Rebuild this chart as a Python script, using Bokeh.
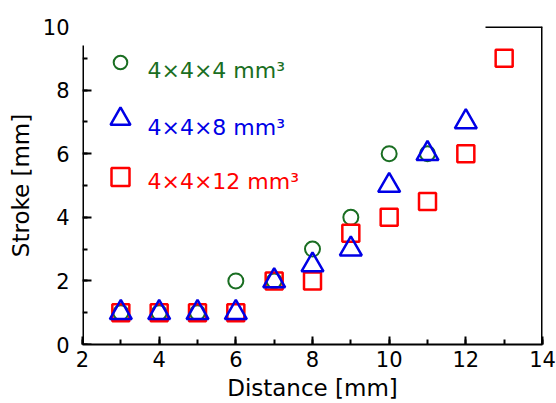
from bokeh.plotting import figure
from bokeh.models import (Range1d, SingleIntervalTicker, Legend, LegendItem,
                          Label, LinearAxis, FixedTicker, CustomJSTickFormatter)
from bokeh.embed import file_html
from bokeh.resources import INLINE

# ---- data ----
distance_4 = [3, 4, 5, 6, 7, 8, 9, 10, 11]
stroke_4 = [1, 1, 1, 2, 2, 3, 4, 6, 6]
distance_8 = [3, 4, 5, 6, 7, 8, 9, 10, 11, 12]
stroke_8 = [1, 1, 1, 1, 2, 2.5, 3, 5, 6, 7]
distance_12 = [3, 4, 5, 6, 7, 8, 9, 10, 11, 12, 13]
stroke_12 = [1, 1, 1, 1, 2, 2, 3.5, 4, 4.5, 6, 9]
series_labels = ["4×4×4 mm³", "4×4×8 mm³", "4×4×12 mm³"]
x_title = "Distance [mm]"
y_title = "Stroke [mm]"

GREEN = "#1a6e22"
BLUE = "#0000e6"
RED = "#ff0000"
FONT = "DejaVu Sans"

p = figure(width=556, height=403, output_backend="svg", toolbar_location=None,
           x_range=Range1d(2, 14), y_range=Range1d(0, 10),
           min_border_left=82, min_border_right=14, min_border_top=26,
           min_border_bottom=57)
p.background_fill_color = "white"
p.border_fill_color = "white"
p.outline_line_color = None
p.xgrid.visible = False
p.ygrid.visible = False

r_c = p.scatter(distance_4, stroke_4, marker="circle", size=15,
                fill_color=None, line_color=GREEN, line_width=2)
r_s = p.scatter(distance_12, stroke_12, marker="square", size=17,
                fill_color=None, line_color=RED, line_width=2.5)
r_t = p.scatter(distance_8, stroke_8, marker="triangle", size=22,
                fill_color=None, line_color=BLUE, line_width=2.5)


def style_ticks(ax, lw=2):
    ax.axis_line_width = lw
    ax.axis_line_color = "black"
    ax.major_tick_line_width = 2
    ax.minor_tick_line_width = 2
    ax.major_tick_out = 0
    ax.minor_tick_out = 0
    ax.major_tick_in = 8
    ax.minor_tick_in = 5


for ax, ttl in ((p.xaxis[0], x_title), (p.yaxis[0], y_title)):
    ax.ticker = SingleIntervalTicker(interval=2, num_minor_ticks=2)
    ax.axis_label = ttl
    ax.axis_label_text_font = FONT
    ax.axis_label_text_font_style = "normal"
    ax.axis_label_text_font_size = "23px"
    ax.axis_label_text_color = "black"
    ax.major_label_text_font = FONT
    ax.major_label_text_font_size = "21px"
    ax.major_label_text_color = "black"
    style_ticks(ax)

p.xaxis[0].major_label_standoff = 6
p.xaxis[0].axis_label_standoff = 5

# main y axis carries only the labels; its line and ticks come from a shorter axis
ya = p.yaxis[0]
ya.axis_line_color = None
ya.major_tick_line_color = None
ya.minor_tick_line_color = None
ya.major_label_standoff = 13
ya.axis_label_standoff = 6

y_line = LinearAxis(fixed_location=2, bounds=(0, 9.4),
                    ticker=SingleIntervalTicker(interval=2, num_minor_ticks=2),
                    formatter=CustomJSTickFormatter(code="return ''"),
                    major_label_standoff=0)
style_ticks(y_line, 3)
y_line.major_tick_in = 9
p.add_layout(y_line, "left")

# right border and the short piece of top border
r_line = LinearAxis(fixed_location=14, ticker=FixedTicker(ticks=[]),
                    major_label_standoff=0)
style_ticks(r_line, 3)
p.add_layout(r_line, "right")
t_line = LinearAxis(fixed_location=10, bounds=(12.5, 14),
                    ticker=FixedTicker(ticks=[]), major_label_standoff=0)
style_ticks(t_line, 3)
p.add_layout(t_line, "above")

# legend: marker glyphs through Legend, coloured texts as labels
specs = [(r_c, GREEN, 34, 265, 274),
         (r_t, BLUE, 57, 197, 217),
         (r_s, RED, 45, 145, 163)]
for (rend, col, gh, ly, ty), lab in zip(specs, series_labels):
    lg = Legend(items=[LegendItem(label=" ", renderers=[rend])],
                location=(13, ly), glyph_width=50, glyph_height=gh,
                label_standoff=0, padding=0, margin=0, spacing=0,
                label_width=1,
                background_fill_alpha=0, border_line_alpha=0,
                label_text_font_size="4px")
    p.add_layout(lg)
    p.add_layout(Label(x=65, y=ty, x_units="screen", y_units="screen",
                       text=lab, text_baseline="middle", text_align="left",
                       text_font=FONT, text_font_size="22px",
                       text_color=col))

open("out.html", "w").write(file_html(p, INLINE))
